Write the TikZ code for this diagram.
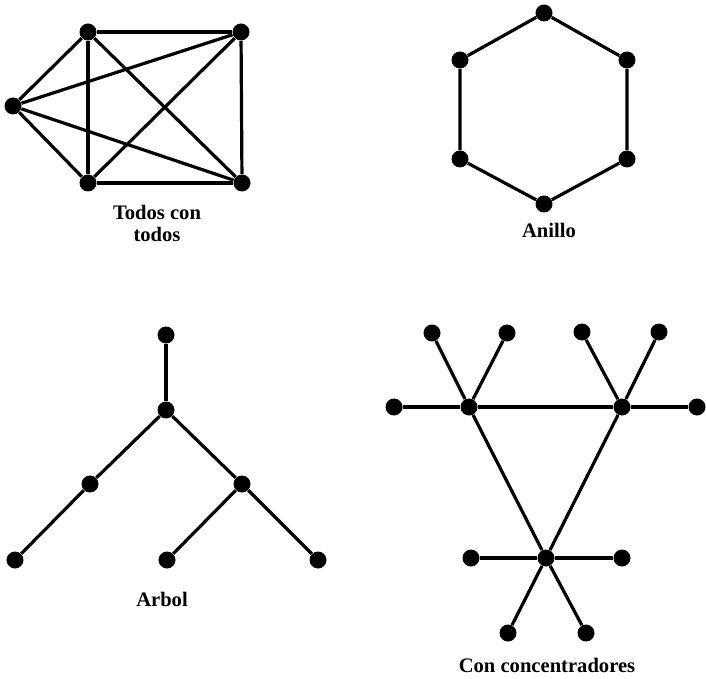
\documentclass[tikz,border=0pt]{standalone}
\usepackage{fontspec}
\setmainfont{Liberation Serif}

\tikzset{
  punto/.style = {circle, fill=black, inner sep=0pt, minimum size=8.5pt},
  enlace/.style = {line width=1.6pt},
  titulo/.style = {anchor=base, font=\fontsize{10.3}{12}\selectfont\bfseries}
}

\begin{document}
\begin{tikzpicture}[x=0.5pt, y=-0.5pt]
		\useasboundingbox (0,0) rectangle (706,679);

		% todos con todos
		\node [punto] (t1) at (88,32) {};
		\node [punto] (t2) at (241,32) {};
		\node [punto] (t3) at (13,106) {};
		\node [punto] (t4) at (88,183) {};
		\node [punto] (t5) at (242,183) {};
		\foreach \a/\b in {t1/t2, t1/t3, t1/t4, t1/t5, t2/t3, t2/t4, t2/t5, t3/t4, t3/t5, t4/t5}
			\draw [enlace] (\a) -- (\b);
		\node [titulo] (lt1) at (157,220) {Todos con};
		\node [titulo] (lt2) at (157,242) {todos};

		% anillo
		\node [punto] (a1) at (544,13) {};
		\node [punto] (a2) at (627,60) {};
		\node [punto] (a3) at (627,159) {};
		\node [punto] (a4) at (544,204) {};
		\node [punto] (a5) at (460,159) {};
		\node [punto] (a6) at (460,60) {};
		\draw [enlace] (a1) -- (a2) -- (a3) -- (a4) -- (a5) -- (a6) -- (a1);
		\node [titulo] (la) at (549,238) {Anillo};

		% arbol
		\node [punto] (r0) at (166,335) {};
		\node [punto] (r1) at (166,410) {};
		\node [punto] (r2) at (90,484) {};
		\node [punto] (r3) at (242,484) {};
		\node [punto] (r4) at (15,560) {};
		\node [punto] (r5) at (167,560) {};
		\node [punto] (r6) at (318,560) {};
		\draw [enlace] (r0) -- (r1);
		\draw [enlace] (r1) -- (r2) -- (r4);
		\draw [enlace] (r1) -- (r3) -- (r6);
		\draw [enlace] (r3) -- (r5);
		\node [titulo] (lr) at (162,606) {Arbol};

		% con concentradores
		\node [punto] (h1) at (469,407) {};
		\node [punto] (h2) at (622,407) {};
		\node [punto] (h3) at (546,558) {};
		\node [punto] (c1) at (432,333) {};
		\node [punto] (c2) at (507,333) {};
		\node [punto] (c3) at (582,332) {};
		\node [punto] (c4) at (659,332) {};
		\node [punto] (c5) at (394,407) {};
		\node [punto] (c6) at (697,407) {};
		\node [punto] (c7) at (471,558) {};
		\node [punto] (c8) at (622,558) {};
		\node [punto] (c9) at (508,633) {};
		\node [punto] (c10) at (586,633) {};
		\draw [enlace] (c5) -- (h1) -- (h2) -- (c6);
		\draw [enlace] (h1) -- (h3) -- (h2);
		\foreach \a/\b in {h1/c1, h1/c2, h2/c3, h2/c4, h3/c7, h3/c8, h3/c9, h3/c10}
			\draw [enlace] (\a) -- (\b);
		\node [titulo] (lc) at (547,672) {Con concentradores};

\end{tikzpicture}
\end{document}
